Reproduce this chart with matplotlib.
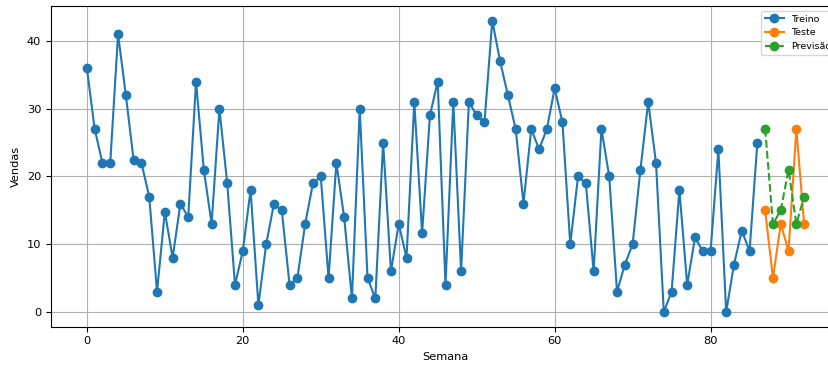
import matplotlib
matplotlib.use("Agg")
import matplotlib.pyplot as plt

treino_semanas = list(range(0, 87))
treino_vendas = [36, 27, 22, 22, 41, 32, 22.4, 22, 17, 3,
                 14.8, 8, 16, 14, 34, 21, 13, 30, 19, 4,
                 9, 18, 1, 10, 16, 15, 4, 5, 13, 19,
                 20, 5, 22, 14, 2, 30, 5, 2, 25, 6,
                 13, 8, 31, 11.6, 29, 34, 4, 31, 6, 31,
                 29, 28, 43, 37, 32, 27, 16, 27, 24, 27,
                 33, 28, 10, 20, 19, 6, 27, 20, 3, 7,
                 10, 21, 31, 22, 0, 3, 18, 4, 11, 9,
                 9, 24, 0, 7, 12, 9, 25]
teste_semanas = [87, 88, 89, 90, 91, 92]
teste_vendas = [15, 5, 13, 9, 27, 13]
previsao_vendas = [27, 13, 15, 21, 13, 17]

plt.rcParams['font.size'] = 8.2
fig = plt.figure(figsize=(8.29, 3.65), dpi=100)
ax = fig.add_axes([51/829, (365-326.6)/365, (840-51)/829, (326.6-6)/365])
ax.plot(treino_semanas, treino_vendas, marker='o', color='#1f77b4', label='Treino')
ax.plot(teste_semanas, teste_vendas, marker='o', color='#ff7f0e', label='Teste')
ax.plot(teste_semanas, previsao_vendas, marker='o', linestyle='--', color='#2ca02c', label='Previsão')
ax.grid(True)
ax.set_xlabel('Semana')
ax.set_ylabel('Vendas')
ax.legend(loc='upper right', fontsize=6.8)
fig.savefig('out.png', dpi=100)
